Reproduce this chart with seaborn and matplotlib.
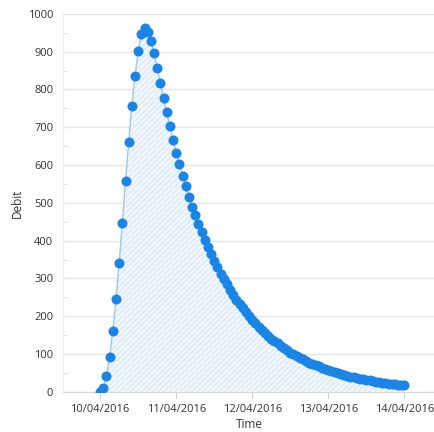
import numpy as np
import pandas as pd
import seaborn as sns
from matplotlib import pyplot as plt
from matplotlib import dates as mdates
from matplotlib.ticker import MultipleLocator

# hourly debit readings, starting 10/04/2016 00:00
DEBIT = [
    0, 10, 43, 93, 162, 245, 340, 447, 558, 661, 757, 836, 901, 946, 962,
    952, 928, 896, 857, 818, 776, 739, 702, 667, 633, 602, 572, 545, 516, 490,
    467, 444, 423, 402, 383, 364, 346, 329, 313, 298, 284, 270, 257, 244, 232,
    221, 210, 200, 190, 181, 172, 164, 156, 148, 141, 134, 128, 121, 115, 110,
    104, 99, 95, 90, 86, 81, 77, 74, 70, 67, 63, 60, 57, 54, 52, 49, 47, 45,
    42, 40, 38, 37, 35, 33, 31, 30, 28, 27, 26, 24, 23, 22, 21, 20, 19, 18, 17,
]
START = "2016-04-10 00:00"
DAY_TICKS = ["2016-04-10", "2016-04-11", "2016-04-12", "2016-04-13", "2016-04-14"]

if __name__ == "__main__":
    sns.set_style("white")
    plt.rcParams["font.family"] = ["Open Sans", "DejaVu Sans"]

    df = pd.DataFrame({
        "Time": pd.date_range(START, periods=len(DEBIT), freq="h"),
        "Debit": DEBIT,
    })

    f = plt.figure(figsize=(4.35, 4.32), dpi=100)
    ax = f.add_axes([0.145, 0.093, 0.855, 0.875])

    ax.fill_between(df.Time, 0, df.Debit, facecolor="#f1f7fc", edgecolor="#dde9f3",
                    hatch="//////", linewidth=0, zorder=1)
    ax.plot(df.Time, df.Debit, color="#9cc9ea", linewidth=1, zorder=2)
    sns.scatterplot(data=df, x="Time", y="Debit", ax=ax, color="#1a85e6",
                    s=52, edgecolor="#1a85e6", linewidth=0, zorder=3, legend=False)

    ax.set_ylim(0, 1000)
    ax.set_xlim(pd.Timestamp("2016-04-09 12:18"), pd.Timestamp("2016-04-14 09:40"))
    ax.yaxis.set_major_locator(MultipleLocator(100))
    ax.yaxis.set_minor_locator(MultipleLocator(50))
    ax.set_xticks(pd.to_datetime(DAY_TICKS))
    ax.xaxis.set_major_formatter(mdates.DateFormatter("%d/%m/%Y"))

    ax.grid(axis="y", color="#e6e6e6", linewidth=1)
    ax.set_axisbelow(True)
    sns.despine(ax=ax, top=True, right=True)
    ax.spines["left"].set_color("#ececec")
    ax.spines["bottom"].set_color("#d9d9d9")
    ax.tick_params(axis="x", which="major", length=4, color="#cccccc",
                   labelsize=8, labelcolor="#333333", pad=5, bottom=True)
    ax.tick_params(axis="y", which="major", length=0, labelsize=8,
                   labelcolor="#333333", pad=7)
    ax.tick_params(axis="y", which="minor", length=3, color="#dddddd",
                   direction="in", left=True)

    ax.set_xlabel("Time", fontsize=8.5, color="#333333", labelpad=2)
    ax.set_ylabel("Debit", fontsize=8.5, color="#333333", labelpad=3)

    plt.savefig("out.png", dpi=100)
